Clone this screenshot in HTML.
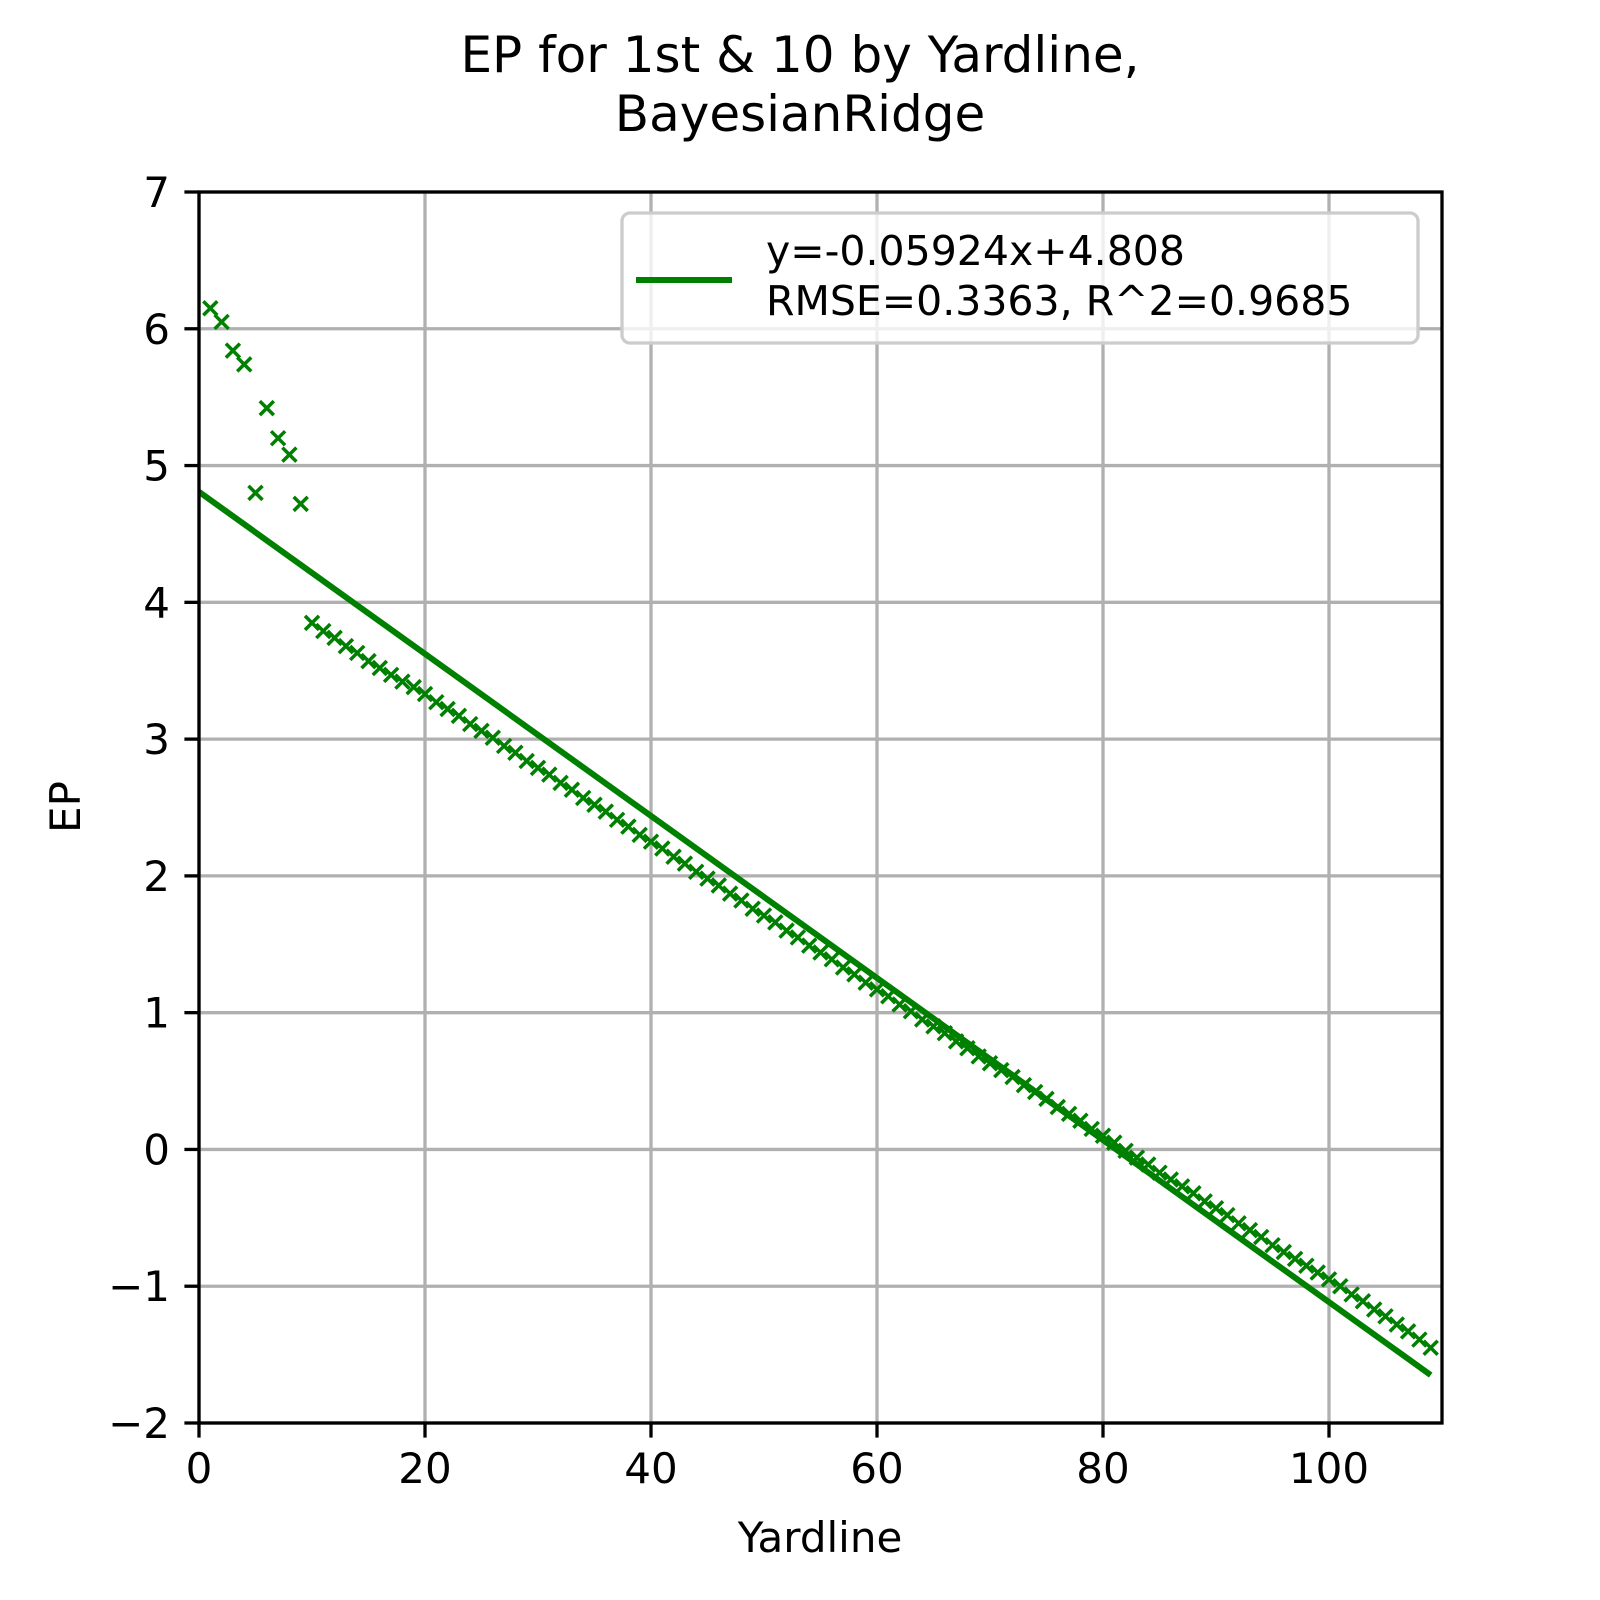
<!DOCTYPE html>
<html><head><meta charset="utf-8"><style>
html,body{margin:0;padding:0;background:#fff;}
svg{display:block;font-family:"DejaVu Sans","Liberation Sans",sans-serif;}
</style></head><body>
<svg id="chart" width="1600" height="1600" viewBox="0 0 1600 1600">
<text x="800" y="72" font-size="50" text-anchor="middle">EP for 1st &amp; 10 by Yardline,</text>
<text x="800" y="131" font-size="50" text-anchor="middle">BayesianRidge</text>
<g id="grid"></g>
<g id="ticks"></g>
<g id="series"></g>
<rect x="199" y="192" width="1243" height="1231" fill="none" stroke="#000" stroke-width="3.3"/>
<text x="820" y="1552" font-size="42" text-anchor="middle">Yardline</text>
<text x="0" y="0" font-size="42" text-anchor="middle" transform="translate(80,807) rotate(-90)">EP</text>
<g>
<rect x="622" y="213" width="796" height="130" rx="8" fill="#fff" fill-opacity="0.8" stroke="#ccc" stroke-width="3.3"/>
<line x1="636" y1="280" x2="732" y2="280" stroke="#008000" stroke-width="6"/>
<text x="766" y="265" font-size="41">y=-0.05924x+4.808</text>
<text x="766" y="315" font-size="41">RMSE=0.3363, R^2=0.9685</text>
</g>
</svg>
<script>
const xs = [1,2,3,4,5,6,7,8,9,10,11,12,13,14,15,16,17,18,19,20,21,22,23,24,25,26,27,28,29,30,31,32,33,34,35,36,37,38,39,40,41,42,43,44,45,46,47,48,49,50,51,52,53,54,55,56,57,58,59,60,61,62,63,64,65,66,67,68,69,70,71,72,73,74,75,76,77,78,79,80,81,82,83,84,85,86,87,88,89,90,91,92,93,94,95,96,97,98,99,100,101,102,103,104,105,106,107,108,109];
const ep = [6.15,6.05,5.84,5.74,4.80,5.42,5.20,5.08,4.72,3.85,3.79,3.74,3.68,3.63,3.57,3.52,3.47,3.42,3.38,3.33,3.27,3.22,3.17,3.11,3.06,3.01,2.95,2.90,2.84,2.79,2.74,2.68,2.63,2.57,2.52,2.47,2.41,2.36,2.30,2.25,2.20,2.14,2.09,2.03,1.98,1.93,1.87,1.82,1.76,1.71,1.66,1.60,1.55,1.49,1.44,1.39,1.33,1.28,1.22,1.17,1.12,1.06,1.01,0.95,0.90,0.85,0.79,0.74,0.68,0.63,0.58,0.53,0.47,0.42,0.37,0.31,0.26,0.21,0.15,0.10,0.05,-0.01,-0.06,-0.11,-0.17,-0.22,-0.27,-0.32,-0.38,-0.43,-0.48,-0.54,-0.59,-0.64,-0.70,-0.75,-0.80,-0.85,-0.90,-0.95,-1.00,-1.06,-1.11,-1.17,-1.22,-1.28,-1.33,-1.39,-1.45];
const fitSlope = -0.05924;
const fitIntercept = 4.808;
const fitRange = [0, 109];
const xTicks = [0,20,40,60,80,100];
const yTicks = [-2,-1,0,1,2,3,4,5,6,7];
const NS = "http://www.w3.org/2000/svg";
const X0=199, X1=1442, Y0=1423, Y1=192, xMin=0, xMax=110, yMin=-2, yMax=7;
function sx(v){return X0+(v-xMin)/(xMax-xMin)*(X1-X0);}
function sy(v){return Y0-(v-yMin)/(yMax-yMin)*(Y0-Y1);}
function mk(tag,attrs,parent){const e=document.createElementNS(NS,tag);for(const k in attrs)e.setAttribute(k,attrs[k]);parent.appendChild(e);return e;}
const grid=document.getElementById('grid'), ticks=document.getElementById('ticks'), series=document.getElementById('series');
xTicks.forEach(t=>{
  const g=mk('line',{x1:sx(t),x2:sx(t),y1:Y1,y2:Y0,stroke:'#b0b0b0','stroke-width':3.3},grid);
  
  
  const tk=mk('line',{x1:sx(t),x2:sx(t),y1:Y0,y2:Y0+14.6,stroke:'#000','stroke-width':3.3},ticks);
  
  
  const lb=mk('text',{x:sx(t),y:Y0+60,'font-size':42,'text-anchor':'middle'},ticks);
  lb.textContent=String(t);
  
  
});
yTicks.forEach(t=>{
  const g=mk('line',{x1:X0,x2:X1,y1:sy(t),y2:sy(t),stroke:'#b0b0b0','stroke-width':3.3},grid);
  
  
  const tk=mk('line',{x1:X0-14.6,x2:X0,y1:sy(t),y2:sy(t),stroke:'#000','stroke-width':3.3},ticks);
  
  
  const lb=mk('text',{x:X0-29,y:sy(t)+15,'font-size':42,'text-anchor':'end'},ticks);
  lb.textContent=(t<0?'\u2212'+(-t):String(t));
  
  
});
const fit=mk('line',{x1:sx(fitRange[0]),y1:sy(fitSlope*fitRange[0]+fitIntercept),x2:sx(fitRange[1]),y2:sy(fitSlope*fitRange[1]+fitIntercept),stroke:'#008000','stroke-width':6},series);


const h=7;
xs.forEach((x,i)=>{
  const cx=sx(x), cy=sy(ep[i]);
  const p=mk('path',{d:`M${cx-h},${cy-h}L${cx+h},${cy+h}M${cx-h},${cy+h}L${cx+h},${cy-h}`,stroke:'#008000','stroke-width':3.5,fill:'none'},series);
  
  
});
</script>
</body></html>
